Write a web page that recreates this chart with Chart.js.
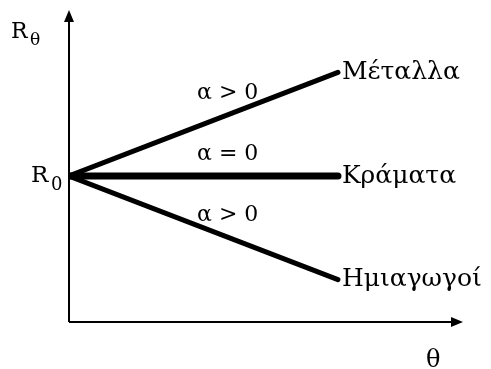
<!DOCTYPE html>
<html>
<head>
<meta charset="utf-8">
<script src="https://cdn.jsdelivr.net/npm/chart.js@4"></script>
<style>
  html, body { margin: 0; padding: 0; background: #fff; }
  #wrap { width: 491px; height: 369px; }
</style>
</head>
<body>
<div id="wrap"><canvas id="rtheta"></canvas></div>
<script>
// temperature (relative) at start and end of each line
const theta = [0, 1];
// resistance relative to R0
const metals = [1, 1.71];
const alloys = [1, 1];
const semis = [1, 0.29];
const seriesNames = ["Μέταλλα", "Κράματα", "Ημιαγωγοί"];
const slopeLabels = ["α > 0", "α = 0", "α > 0"];

const FONT = "DejaVu Serif";

const toPoints = (ys) => theta.map((x, i) => ({ x: x, y: ys[i] }));

const axesAndLabels = {
    id: "axesAndLabels",
    afterDatasetsDraw(chart) {
        const ctx = chart.ctx;
        const a = chart.chartArea;
        const xs = chart.scales.x;
        const ys = chart.scales.y;
        const x0 = xs.getPixelForValue(0);
        const y0 = ys.getPixelForValue(0);

        ctx.save();
        ctx.strokeStyle = "#000";
        ctx.fillStyle = "#000";
        ctx.lineWidth = 2;
        // axes
        ctx.beginPath();
        ctx.moveTo(x0, y0);
        ctx.lineTo(x0, a.top + 8);
        ctx.moveTo(x0, y0);
        ctx.lineTo(a.right - 8, y0);
        ctx.stroke();
        // arrow heads
        ctx.beginPath();
        ctx.moveTo(x0, a.top);
        ctx.lineTo(x0 - 5, a.top + 12);
        ctx.lineTo(x0 + 5, a.top + 12);
        ctx.closePath();
        ctx.fill();
        ctx.beginPath();
        ctx.moveTo(a.right, y0);
        ctx.lineTo(a.right - 12, y0 - 5);
        ctx.lineTo(a.right - 12, y0 + 5);
        ctx.closePath();
        ctx.fill();

        // axis labels
        ctx.textBaseline = "alphabetic";
        ctx.textAlign = "left";
        ctx.font = "22px " + FONT;
        ctx.fillText("R", 11, 38);
        ctx.font = "17px " + FONT;
        ctx.fillText("θ", 30, 45);
        const r0 = ys.getPixelForValue(1);
        ctx.font = "23px " + FONT;
        ctx.fillText("R", 31, r0 + 6);
        ctx.font = "18px " + FONT;
        ctx.fillText("0", 51, r0 + 14);
        ctx.font = "24px " + FONT;
        ctx.fillText("θ", 426, 367);

        // end labels and slope labels
        const lines = [metals, alloys, semis];
        lines.forEach((vals, i) => {
            const xe = xs.getPixelForValue(theta[1]);
            const ye = ys.getPixelForValue(vals[1]);
            ctx.font = "25px " + FONT;
            ctx.textAlign = "left";
            ctx.textBaseline = "middle";
            ctx.fillText(seriesNames[i], xe + 4, ye);

            const t = 0.59;
            const xm = xs.getPixelForValue(t);
            const ym = ys.getPixelForValue(vals[0] + (vals[1] - vals[0]) * t);
            ctx.textAlign = "center";
            ctx.textBaseline = "alphabetic";
            ctx.font = "22px " + FONT;
            ctx.fillText(slopeLabels[i], xm, ym - 16);
        });
        ctx.restore();
    },
};

document.addEventListener("DOMContentLoaded", function () {
    const ctx = document.getElementById("rtheta").getContext("2d");
    new Chart(ctx, {
        type: "scatter",
        data: {
            datasets: [
                { label: seriesNames[0], data: toPoints(metals), borderWidth: 5 },
                { label: seriesNames[1], data: toPoints(alloys), borderWidth: 7 },
                { label: seriesNames[2], data: toPoints(semis), borderWidth: 5 },
            ].map((d) => ({
                ...d,
                showLine: true,
                borderColor: "#000",
                pointRadius: 0,
                borderCapStyle: "round",
                fill: false,
            })),
        },
        options: {
            responsive: true,
            maintainAspectRatio: false,
            animation: false,
            layout: { padding: { left: 69, top: 10, right: 28, bottom: 47 } },
            plugins: { legend: { display: false }, tooltip: { enabled: false } },
            scales: {
                x: { type: "linear", min: 0, max: 1.465, display: false },
                y: { type: "linear", min: 0, max: 2.137, display: false },
            },
        },
        plugins: [axesAndLabels],
    });
});
</script>
</body>
</html>
